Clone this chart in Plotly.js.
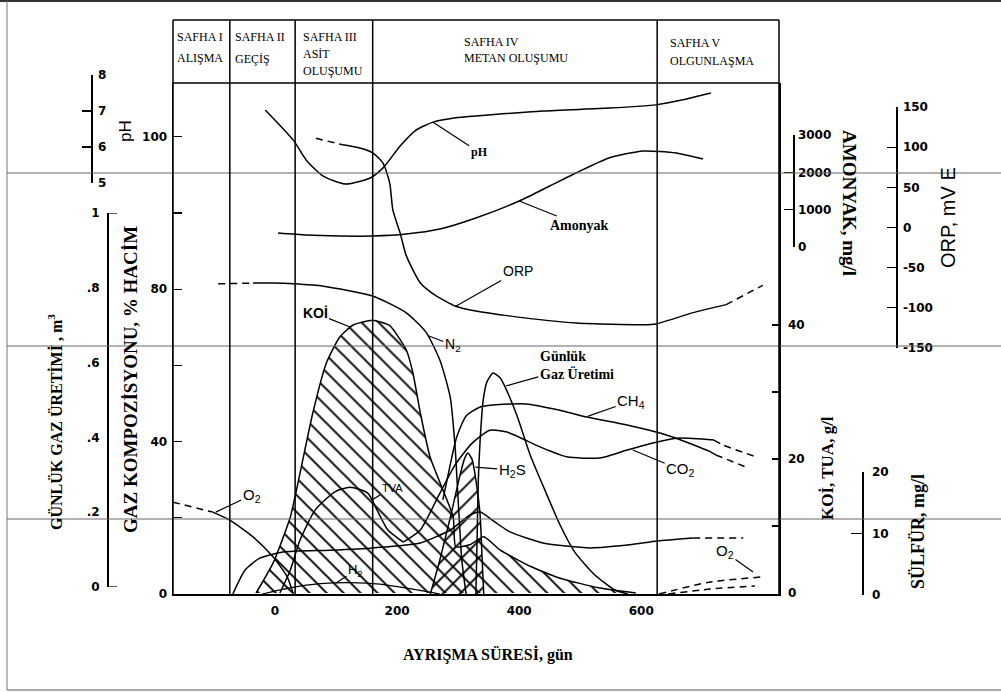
<!DOCTYPE html>
<html><head><meta charset="utf-8">
<script src="https://cdn.plot.ly/plotly-3.0.1.min.js"></script>
<style>html,body{margin:0;padding:0;background:#fff}#chart{width:1001px;height:692px}</style>
</head><body><div id="chart"></div>
<script>
// ================= DATA =================
const phaseNames = [["SAFHA I","ALIŞMA"],["SAFHA II","GEÇİŞ"],["SAFHA III","ASİT","OLUŞUMU"],["SAFHA IV","METAN OLUŞUMU"],["SAFHA V","OLGUNLAŞMA"]];
const phaseBounds = [-74, 33, 160, 626];          // days
const xTicks = [0, 200, 400, 600];

// pH
const phGun = [-16, 30, 51, 79, 116, 156, 177, 205, 231, 259, 296, 329, 439, 547, 624, 668, 714];
const phDeger = [7.03, 6.19, 5.64, 5.19, 4.97, 5.14, 5.42, 6.03, 6.47, 6.69, 6.81, 6.86, 7.0, 7.08, 7.17, 7.31, 7.5];
// Amonyak, mg/l
const amonyakGun = [5, 51, 106, 160, 215, 270, 329, 400, 450, 493, 547, 603, 657, 701];
const amonyakDeger = [375, 321, 295, 295, 348, 482, 777, 1232, 1634, 1982, 2384, 2572, 2518, 2357];
// ORP, mV
const orpGun = [67, 111, 139, 160, 177, 188, 193, 205, 215, 238, 264, 296, 329, 383, 493, 603, 624, 685, 739, 799];
const orpDeger = [111, 103, 99, 93, 80, 55, 22, -7, -35, -69, -85, -98, -104, -110, -119, -121, -120, -106, -96, -72];
// N2, % hacim
const n2Gun = [-93, -36, -3, 30, 79, 160, 215, 247, 270, 287, 295, 300, 306, 313];
const n2Deger = [81.4, 81.6, 81.6, 81.4, 80.8, 78.2, 73.8, 68.8, 61.4, 51.7, 38.6, 24.7, 8.9, 0];
// O2 (early), % hacim
const o2Gun = [-167, -102, -74, -36, -3, 20, 30];
const o2Deger = [24.1, 21.5, 19.4, 15.0, 9.7, 4.5, 0];
// KOİ, g/l (hatched)
const koiGun = [-31, -3, 25, 41, 62, 84, 106, 128, 160, 188, 215, 226, 238, 254, 275, 292, 296, 319, 342, 369, 418, 467, 532, 591];
const koiDeger = [0, 4.5, 11.3, 17.9, 26.9, 34.3, 38.2, 40.0, 40.7, 39.9, 36.3, 32.8, 26.9, 20.3, 15.4, 11.3, 6.9, 7.2, 8.4, 6.4, 4.0, 2.2, 0.75, 0];
// TVA, g/l
const tvaGun = [8, 25, 41, 66, 98, 123, 152, 167, 185, 210];
const tvaDeger = [0, 3.4, 7.9, 12.4, 15.1, 15.8, 14.9, 12.4, 9.4, 7.6];
// CO2, % hacim
const co2Gun = [210, 238, 267, 295, 323, 352, 380, 434, 478, 532, 577, 626, 659, 719, 734, 788];
const co2Deger = [13.6, 16.8, 25.5, 33.9, 39.6, 43.0, 42.5, 38.6, 36.0, 35.7, 37.8, 39.9, 40.9, 40.4, 39.1, 36.0];
// CH4, % hacim
const ch4Gun = [275, 287, 297, 313, 336, 357, 411, 465, 509, 575, 624, 657, 711, 722, 772];
const ch4Deger = [24.7, 33.9, 40.9, 46.7, 49.1, 49.6, 49.9, 48.3, 46.5, 44.4, 42.5, 40.9, 37.5, 36.5, 33.3];
// H2S / sülfür, mg/l (hatched)
const h2sGun = [254, 270, 290, 303, 311, 316, 323, 329, 336, 339, 342];
const h2sDeger = [0, 5.7, 13.8, 19.5, 22.3, 23.1, 22.0, 18.7, 13.0, 6.5, 0];
// Günlük gaz üretimi, m3
const gazGun = [329, 331, 333, 336, 341, 347, 357, 369, 377, 396, 418, 442, 467, 491, 524, 557, 578];
const gazDeger = [0, 0.142, 0.299, 0.404, 0.509, 0.556, 0.580, 0.567, 0.543, 0.470, 0.365, 0.273, 0.181, 0.110, 0.050, 0.010, 0];
// H2, % hacim
const h2Gun = [-21, 25, 74, 123, 172, 221, 270];
const h2Deger = [0, 1.6, 2.7, 3.0, 2.6, 1.4, 0];
// unlabelled low curve, % hacim
const egriGun = [-69, -49, -25, 13, 90, 160, 238, 287, 319, 336, 360, 385, 439, 516, 581, 626, 685, 767];
const egriDeger = [0, 6.3, 9.4, 11.0, 11.5, 12.1, 13.4, 16.8, 20.7, 21.5, 18.9, 16.3, 13.4, 12.1, 12.9, 13.9, 14.7, 14.7];
// O2 / air return in phase V, % hacim
const o2sonGun = [629, 711, 799];
const o2sonDeger = [0, 3.1, 4.5];
const havaGun = [644, 713, 786];
const havaDeger = [0, 1.3, 2.1];

// axis tick labels
const gasTickVals = [0, 40, 80, 120];
const gasTickText = ["0", "40", "80", "100"];
const gasMinorTicks = [20, 60, 100];
const koiTickVals = [0, 20, 40];
const koiMinorTicks = [10, 30];
const phTicks = [5, 6, 7, 8];
const gTickVals = [0, 0.2, 0.4, 0.6, 0.8, 1];
const gTickText = ["0", ".2", ".4", ".6", ".8", "1"];
const nh3Ticks = [0, 1000, 2000, 3000];
const orpTickVals = [-150, -100, -50, 0, 50, 100, 150];
const orpTickText = ["-150", "-100", "-50", "0", "50", "100", "150"];
const sTicks = [0, 10, 20];

// ================= LAYOUT GEOMETRY =================
const W = 1001, H = 692;
const P = {L: 173, R: 779, T: 83, B: 594, HT: 20};
const X0 = 275, XS = 0.6105;               // pixel of day 0, pixels per day
const px = p => p / W, py = p => 1 - p / H;
const cal = {
  gas: {v1: 0, p1: 594, v2: 40, p2: 441.6},
  ph: {v1: 5, p1: 183, v2: 8, p2: 75},
  nh3: {v1: 0, p1: 247, v2: 3000, p2: 135},
  orp: {v1: -150, p1: 348, v2: 150, p2: 107},
  koi: {v1: 0, p1: 593, v2: 40, p2: 325},
  s: {v1: 0, p1: 595, v2: 20, p2: 472},
  g: {v1: 0, p1: 594, v2: 1, p2: 213},
  gdeco: {v1: 0, p1: 587, v2: 1, p2: 213}
};
function rangeOf(c) { const f = p => c.v1 + (p - c.p1) * (c.v2 - c.v1) / (c.p2 - c.p1); return [f(P.B), f(P.T)]; }
function domainOf(c, a, b) { const g = v => c.p1 + (v - c.v1) * (c.p2 - c.p1) / (c.v2 - c.v1); return [py(g(a)), py(g(b))]; }
const mainDom = [py(P.B), py(P.T)];

const tickFont = {family: 'DejaVu Sans', size: 12, color: '#000', weight: 'bold'};
const K = '#000';
const DASH = '7px,5px';

function ln(x, y, ax, dash, w) {
  return {type: 'scatter', mode: 'lines', x: x, y: y, yaxis: ax, hoverinfo: 'skip', showlegend: false,
    line: {color: K, width: w || 1.5, dash: dash || 'solid', shape: 'spline', smoothing: 0.6}};
}
const cut = (a, i, j) => a.slice(i, j + 1);
function hatch(x, y, ax, shape) {
  return {type: 'scatter', mode: 'lines', x: x, y: y, yaxis: ax, hoverinfo: 'skip', showlegend: false,
    fill: 'toself', fillcolor: 'rgba(0,0,0,0)',
    fillpattern: {shape: shape, size: 12, solidity: 0.16, fgcolor: K, bgcolor: 'rgba(0,0,0,0)', fgopacity: 1},
    line: {color: K, width: 1.5, shape: 'spline', smoothing: 0.5}};
}
const dummy = ax => ({type: 'scatter', mode: 'markers', x: [null], y: [null], yaxis: ax, hoverinfo: 'skip', showlegend: false});

const nO = orpGun.length;
const traces = [
  hatch(koiGun, koiDeger, 'y5', '\\'),
  hatch(h2sGun, h2sDeger, 'y6', '/'),
  ln(tvaGun, tvaDeger, 'y5'),
  ln(phGun, phDeger, 'y2'),
  ln(amonyakGun, amonyakDeger, 'y3'),
  ln(cut(orpGun, 0, 1), cut(orpDeger, 0, 1), 'y4', DASH),
  ln(cut(orpGun, 1, nO - 2), cut(orpDeger, 1, nO - 2), 'y4'),
  ln(cut(orpGun, nO - 2, nO - 1), cut(orpDeger, nO - 2, nO - 1), 'y4', DASH),
  ln(cut(n2Gun, 0, 1), cut(n2Deger, 0, 1), 'y', DASH),
  ln(cut(n2Gun, 1, n2Gun.length - 1), cut(n2Deger, 1, n2Deger.length - 1), 'y'),
  ln(cut(o2Gun, 0, 1), cut(o2Deger, 0, 1), 'y', DASH),
  ln(cut(o2Gun, 1, o2Gun.length - 1), cut(o2Deger, 1, o2Deger.length - 1), 'y'),
  ln(h2Gun, h2Deger, 'y', null, 1.2),
  ln(cut(egriGun, 0, 16), cut(egriDeger, 0, 16), 'y'),
  ln(cut(egriGun, 16, 17), cut(egriDeger, 16, 17), 'y', DASH),
  ln(cut(co2Gun, 0, 13), cut(co2Deger, 0, 13), 'y'),
  ln(cut(co2Gun, 13, 15), cut(co2Deger, 13, 15), 'y', DASH),
  ln(cut(ch4Gun, 0, 13), cut(ch4Deger, 0, 13), 'y'),
  ln(cut(ch4Gun, 13, 14), cut(ch4Deger, 13, 14), 'y', DASH),
  ln(gazGun, gazDeger, 'y7'),
  ln(o2sonGun, o2sonDeger, 'y', DASH),
  ln(havaGun, havaDeger, 'y', DASH),
  dummy('y8'), dummy('y9'), dummy('y10'), dummy('y11'), dummy('y12')
];

const hidden = r => ({overlaying: 'y', range: r, visible: false, fixedrange: true});
const deco = (pos, side, dom, rng, extra) => Object.assign({anchor: 'free', position: pos, side: side, domain: dom, range: rng,
  showline: true, linecolor: K, linewidth: 1.5, ticks: 'inside', ticklen: 9, tickwidth: 1.3, tickcolor: K,
  showgrid: false, zeroline: false, tickfont: tickFont, fixedrange: true, ticklabelstandoff: 3}, extra);

// ---------- annotations ----------
const ann = [];
function txt(t, x, y, size, fam, angle, anchor) {
  ann.push({xref: 'paper', yref: 'paper', x: px(x), y: py(y), text: t, showarrow: false,
    xanchor: anchor || 'center', yanchor: 'middle', textangle: angle || 0,
    font: {family: fam, size: size, color: K}});
}
const SER = 'Liberation Serif', SAN = 'Liberation Sans';
// axis titles
txt('<b>GÜNLÜK GAZ ÜRETİMİ , m<sup>3</sup></b>', 55, 422, 16, SER, -90);
txt('<b>GAZ KOMPOZİSYONU, % HACİM</b>', 130, 380, 19, SER, -90);
txt('pH', 125, 131, 17, SAN, -90);
txt('<b>AMONYAK, mg/l</b>', 850, 203, 19, SER, 90);
txt('ORP, mV E', 948, 218, 20, SAN, -90);
txt('<b>KOİ, TUA, g/l</b>', 827, 468, 17, SER, -90);
txt('<b>SÜLFÜR, mg/l</b>', 918, 532, 18, SER, -90);
txt('<b>AYRIŞMA SÜRESİ, gün</b>', 488, 654, 16, SER, 0);
// header
const headerPos = [[175, [37, 58]], [233, [37, 59]], [301, [37, 54, 71]], [462, [42, 58]], [668, [43, 61]]];
phaseNames.forEach((lines, i) => lines.forEach((t, j) => txt(t, headerPos[i][0], headerPos[i][1][j], 12, SER, 0, 'left')));
// curve labels with leaders
function lab(t, x, y, yref, ax, ay, size, fam) {
  ann.push({xref: 'x', yref: yref, x: x, y: y, text: t, showarrow: true, arrowhead: 0, arrowwidth: 1.2,
    arrowcolor: K, ax: ax, ay: ay, font: {family: fam, size: size, color: K}});
}
lab('<b>pH</b>', 259, 6.69, 'y2', 46, 30, 12, SER);
lab('<b>Amonyak</b>', 400, 1232, 'y3', 60, 24, 14, SER);
lab('ORP', 296, -98, 'y4', 62, -35, 14, SAN);
lab('<b>KOİ</b>', 123, 39.7, 'y5', -35, -14, 14, SAN);
lab('N<sub>2</sub>', 252, 67.7, 'y', 24, 9, 14, SAN);
lab('O<sub>2</sub>', -97, 21.5, 'y', 36, -17, 15, SAN);
lab('TVA', 159, 13.9, 'y5', 20, -12, 11, SAN);
lab('H<sub>2</sub>', 100, 2.9, 'y', 19, -12, 13, SAN);
ann.push({xref: 'x', yref: 'y7', x: 378, y: 0.546, text: '<b>Günlük<br>Gaz Üretimi</b>', align: 'left', showarrow: true,
  arrowhead: 0, arrowwidth: 1.2, arrowcolor: K, ax: 71, ay: -20, font: {family: SER, size: 14, color: K}});
lab('CH<sub>4</sub>', 513, 46.7, 'y', 43, -15, 15, SAN);
lab('H<sub>2</sub>S', 328, 20.8, 'y6', 37, 3, 15, SAN);
lab('CO<sub>2</sub>', 586, 37.8, 'y', 48, 20, 15, SAN);
lab('O<sub>2</sub>', 783, 5.8, 'y', -28, -20, 15, SAN);

// ---------- shapes ----------
const shapes = [];
const pl = (x0, y0, x1, y1, c, w) => shapes.push({type: 'line', xref: 'paper', yref: 'paper', x0: px(x0), y0: py(y0), x1: px(x1), y1: py(y1), line: {color: c, width: w}, layer: 'above'});
// page frame and scan lines
pl(0, 1, 1001, 1, '#333', 2);
pl(7, 1, 7, 690, '#777', 1);
pl(7, 690, 1001, 690, '#555', 1);
[173, 346, 519].forEach(y => pl(7, y, 1001, y, '#666', 1));
// header box / plot frame
pl(P.L, P.HT, P.R, P.HT, K, 1.5);
pl(P.L, P.T, P.R, P.T, K, 1.5);
pl(P.L, P.HT, P.L, P.B, K, 1.5);
pl(P.R, P.HT, P.R, P.B, K, 1.5);
phaseBounds.forEach(d => shapes.push({type: 'line', xref: 'x', yref: 'paper', x0: d, x1: d, y0: py(P.B), y1: py(P.HT), line: {color: K, width: 1.5}, layer: 'above'}));
// bracket ends of the gas production axis
[0, 1].forEach(v => shapes.push({type: 'line', xref: 'paper', yref: 'y9', x0: px(107), x1: px(117), y0: v, y1: v, line: {color: K, width: 1.3}}));

const layout = {
  width: W, height: H, autosize: false, margin: {l: 0, r: 0, t: 0, b: 0},
  paper_bgcolor: '#fff', plot_bgcolor: 'rgba(0,0,0,0)', showlegend: false, hovermode: false,
  xaxis: {domain: [px(P.L), px(P.R)], range: [(P.L - X0) / XS, (P.R - X0) / XS], tickvals: xTicks, ticks: '',
    showline: true, linecolor: K, linewidth: 1.5, showgrid: false, zeroline: false, tickfont: tickFont,
    ticklabelstandoff: 5, fixedrange: true},
  yaxis: {domain: mainDom, range: rangeOf(cal.gas), side: 'left', showline: true, linecolor: K, linewidth: 1.5,
    ticks: 'inside', ticklen: 9, tickwidth: 1.3, tickcolor: K, tickvals: gasTickVals, ticktext: gasTickText,
    minor: {tickmode: 'array', tickvals: gasMinorTicks, ticks: 'inside', ticklen: 9, tickwidth: 1.3, tickcolor: K, showgrid: false},
    showgrid: false, zeroline: false, tickfont: tickFont, fixedrange: true, ticklabelstandoff: 2},
  yaxis2: hidden(rangeOf(cal.ph)),
  yaxis3: hidden(rangeOf(cal.nh3)),
  yaxis4: hidden(rangeOf(cal.orp)),
  yaxis5: {overlaying: 'y', side: 'right', anchor: 'x', range: rangeOf(cal.koi), showline: true, linecolor: K, linewidth: 1.5,
    ticks: 'inside', ticklen: 7, tickwidth: 1.3, tickcolor: K, tickvals: koiTickVals,
    minor: {tickmode: 'array', tickvals: koiMinorTicks, ticks: 'inside', ticklen: 7, tickwidth: 1.3, tickcolor: K, showgrid: false},
    showgrid: false, zeroline: false, tickfont: tickFont, fixedrange: true, ticklabelstandoff: 5},
  yaxis6: hidden(rangeOf(cal.s)),
  yaxis7: hidden(rangeOf(cal.g)),
  yaxis8: deco(px(91), 'right', domainOf(cal.ph, 5, 8), [5, 8], {tickvals: phTicks}),
  yaxis9: deco(px(107), 'left', domainOf(cal.gdeco, 0, 1), [0, 1], {ticks: '', tickvals: gTickVals, ticktext: gTickText, ticklabelstandoff: 5}),
  yaxis10: deco(px(793), 'right', domainOf(cal.nh3, 0, 3000), [0, 3000], {tickvals: nh3Ticks, ticklabelstandoff: 1}),
  yaxis11: deco(px(896), 'right', domainOf(cal.orp, -150, 150), [-150, 150], {tickvals: orpTickVals, ticktext: orpTickText}),
  yaxis12: deco(px(862), 'right', domainOf(cal.s, 0, 20), [0, 20], {tickvals: sTicks, ticklen: 11, ticklabelstandoff: 6}),
  annotations: ann,
  shapes: shapes
};
Plotly.newPlot('chart', traces, layout, {staticPlot: true, displayModeBar: false});
</script>
</body></html>
